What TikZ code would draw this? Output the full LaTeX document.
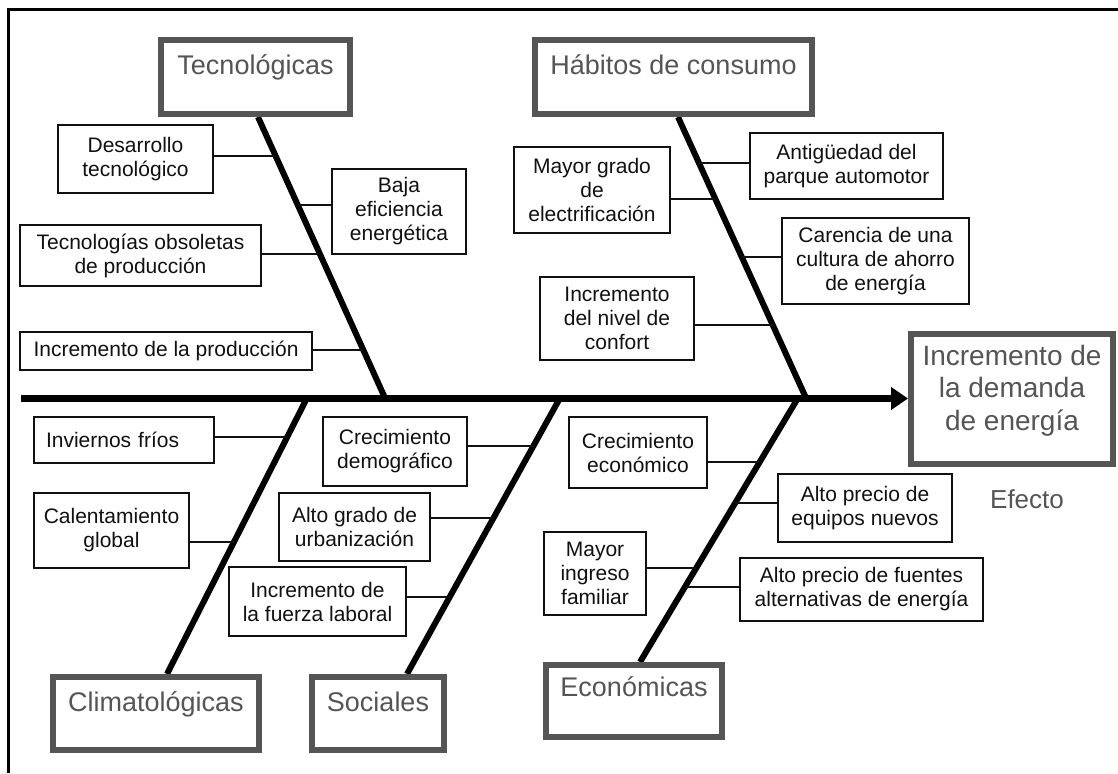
\documentclass[tikz,border=0pt]{standalone}
\usepackage{fontspec}
\setmainfont{Liberation Sans}
\newfontfamily\boxfont{Liberation Sans}
\newfontfamily\catfont{Liberation Sans}
\usetikzlibrary{arrows.meta,calc}
\definecolor{catgray}{HTML}{555555}
\definecolor{ink}{HTML}{111111}
\begin{document}
\begin{tikzpicture}[x=1pt,y=-1pt,
  frameline/.style={line width=3pt, black},
  cbox/.style={draw=ink, line width=1.5pt, fill=white, inner sep=0pt, align=center, text=ink,
    font=\boxfont\fontsize{21}{24}\selectfont},
  catbox/.style={draw=catgray, line width=6pt, fill=white, inner xsep=0pt, inner ysep=0pt, text=catgray,
    font=\catfont\fontsize{27}{31}\selectfont},
  efftext/.style={text=catgray, align=center, inner sep=0pt, font=\fontsize{28}{32.5}\selectfont},
  efflabel/.style={text=catgray, inner sep=0pt, font=\fontsize{26}{31}\selectfont},
  conn/.style={line width=1.5pt, ink},
  bone/.style={line width=6pt, black},
  spine/.style={line width=7pt, black, -{Triangle[length=17pt,width=22pt]}},
]
\useasboundingbox (0,0) rectangle (1118,773);

% frame
\coordinate (f1) at (8,773);
\coordinate (f2) at (8,10);
\coordinate (f3) at (1118,10);
\draw[frameline] (f1) -- (f2) -- (f3);

% effect
\node[catbox, minimum width=202pt, minimum height=130pt] (eff) at (1012,398.5) {};
\node[efftext] (efft) at ([yshift=8pt]eff.center) {Incremento de\\la demanda\\de energía};
\node[efflabel] (efecto) at (1027,499) {Efecto};

% spine
\coordinate (sp0) at (21,398.5);
\draw[spine] (sp0) -- (eff.west);

% bones
\coordinate (tecT) at (258,117);  \coordinate (tecB) at (385,398);
\coordinate (habT) at (678,117);  \coordinate (habB) at (806,398);
\coordinate (cliT) at (307,398);  \coordinate (cliB) at (167,674);
\coordinate (socT) at (560,398);  \coordinate (socB) at (407,674);
\coordinate (ecoT) at (798,398);  \coordinate (ecoB) at (640,662);
\draw[bone] (tecT) -- (tecB);
\draw[bone] (habT) -- (habB);
\draw[bone] (cliT) -- (cliB);
\draw[bone] (socT) -- (socB);
\draw[bone] (ecoT) -- (ecoB);

% category boxes
\node[catbox, minimum width=189pt, text height=35pt, text depth=39pt] (tec) at (255.5,77) {Tecnológicas};
\node[catbox, minimum width=277pt, text height=35pt, text depth=39pt] (hab) at (673.5,77) {Hábitos de consumo};
\node[catbox, minimum width=206pt, text height=34pt, text depth=39pt] (cli) at (156,713.5) {Climatológicas};
\node[catbox, minimum width=132pt, text height=34pt, text depth=39pt] (soc) at (378,713.5) {Sociales};
\node[catbox, minimum width=176pt, text height=31pt, text depth=41pt] (eco) at (634,701) {Económicas};

% cause boxes - Tecnologicas
\node[cbox, minimum width=155pt, minimum height=68pt] (desar) at (135.5,159) {Desarrollo\\tecnológico};
\node[cbox, minimum width=134pt, minimum height=85pt] (baja) at (399,211.5) {Baja\\eficiencia\\energética};
\node[cbox, minimum width=241pt, minimum height=61pt] (tecobs) at (140.5,255.5) {Tecnologías obsoletas\\de producción};
\node[cbox, minimum width=292pt, minimum height=38pt] (incprod) at (166,351) {Incremento de la producción};

% Habitos
\node[cbox, minimum width=156pt, minimum height=86pt] (mayorgr) at (592,190) {Mayor grado\\de\\electrificación};
\node[cbox, minimum width=193pt, minimum height=66pt] (antig) at (846.5,166) {Antigüedad del\\parque automotor};
\node[cbox, minimum width=187pt, minimum height=86pt] (carencia) at (875.5,261) {Carencia de una\\cultura de ahorro\\de energía};
\node[cbox, minimum width=154pt, minimum height=83pt] (confort) at (617,318.5) {Incremento\\del nivel de\\confort};

% Climatologicas
\node[cbox, text width=156pt, align=left, inner xsep=12pt, minimum height=46pt] (invier) at (124,440) {Inviernos fríos};
\node[cbox, minimum width=155pt, minimum height=75pt] (calent) at (111.5,530.5) {Calentamiento\\global};

% Sociales
\node[cbox, minimum width=144pt, minimum height=69pt] (crecdem) at (395,451.5) {Crecimiento\\demográfico};
\node[cbox, minimum width=151pt, minimum height=68pt] (urban) at (354.5,527) {Alto grado de\\urbanización};
\node[cbox, minimum width=177pt, minimum height=69pt] (fuerza) at (317.5,601.5) {Incremento de\\la fuerza laboral};

% Economicas
\node[cbox, minimum width=138pt, minimum height=71pt] (crececo) at (638,452.5) {Crecimiento\\económico};
\node[cbox, minimum width=174pt, minimum height=68pt] (equipos) at (865,508) {Alto precio de\\equipos nuevos};
\node[cbox, minimum width=102pt, minimum height=83pt] (ingreso) at (595,573.5) {Mayor\\ingreso\\familiar};
\node[cbox, minimum width=243pt, minimum height=63pt] (fuentes) at (861.5,589.5) {Alto precio de fuentes\\alternativas de energía};

% connector points on bones
\coordinate (p1) at ($(tecT)!0.139!(tecB)$);
\coordinate (p2) at ($(tecT)!0.313!(tecB)$);
\coordinate (p3) at ($(tecT)!0.488!(tecB)$);
\coordinate (p4) at ($(tecT)!0.829!(tecB)$);
\coordinate (h1) at ($(habT)!0.164!(habB)$);
\coordinate (h2) at ($(habT)!0.292!(habB)$);
\coordinate (h3) at ($(habT)!0.498!(habB)$);
\coordinate (h4) at ($(habT)!0.740!(habB)$);
\coordinate (c1) at ($(cliT)!0.141!(cliB)$);
\coordinate (c2) at ($(cliT)!0.522!(cliB)$);
\coordinate (s1) at ($(socT)!0.174!(socB)$);
\coordinate (s2) at ($(socT)!0.435!(socB)$);
\coordinate (s3) at ($(socT)!0.721!(socB)$);
\coordinate (e1) at ($(ecoT)!0.242!(ecoB)$);
\coordinate (e2) at ($(ecoT)!0.398!(ecoB)$);
\coordinate (e3) at ($(ecoT)!0.644!(ecoB)$);
\coordinate (e4) at ($(ecoT)!0.716!(ecoB)$);

\draw[conn] (desar.east |- p1) -- (p1);
\draw[conn] (baja.west |- p2) -- (p2);
\draw[conn] (tecobs.east |- p3) -- (p3);
\draw[conn] (incprod.east |- p4) -- (p4);
\draw[conn] (antig.west |- h1) -- (h1);
\draw[conn] (mayorgr.east |- h2) -- (h2);
\draw[conn] (carencia.west |- h3) -- (h3);
\draw[conn] (confort.east |- h4) -- (h4);
\draw[conn] (invier.east |- c1) -- (c1);
\draw[conn] (calent.east |- c2) -- (c2);
\draw[conn] (crecdem.east |- s1) -- (s1);
\draw[conn] (urban.east |- s2) -- (s2);
\draw[conn] (fuerza.east |- s3) -- (s3);
\draw[conn] (crececo.east |- e1) -- (e1);
\draw[conn] (equipos.west |- e2) -- (e2);
\draw[conn] (ingreso.east |- e3) -- (e3);
\draw[conn] (fuentes.west |- e4) -- (e4);
\end{tikzpicture}
\end{document}
